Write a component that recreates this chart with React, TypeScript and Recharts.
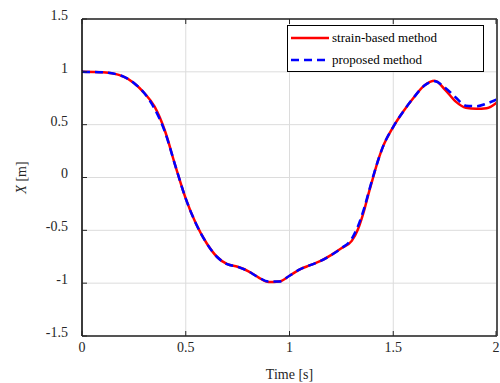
import { LineChart, Line, XAxis, YAxis, CartesianGrid } from "recharts"

const time = [0, 0.1, 0.2, 0.25, 0.3, 0.35, 0.4, 0.45, 0.5, 0.55, 0.6, 0.65, 0.7, 0.75, 0.8, 0.85, 0.9, 0.95, 1.0, 1.05, 1.1, 1.15, 1.2, 1.25, 1.3, 1.33, 1.36, 1.38, 1.4, 1.43, 1.45, 1.5, 1.55, 1.6, 1.65, 1.7, 1.75, 1.8, 1.85, 1.9, 1.95, 2.0]
const strainBased = [1.0, 0.995, 0.955, 0.895, 0.8, 0.67, 0.44, 0.11, -0.2, -0.44, -0.62, -0.75, -0.82, -0.845, -0.885, -0.945, -0.99, -0.985, -0.93, -0.87, -0.83, -0.79, -0.735, -0.67, -0.6, -0.49, -0.31, -0.16, -0.02, 0.18, 0.29, 0.48, 0.63, 0.76, 0.87, 0.915, 0.83, 0.72, 0.66, 0.65, 0.655, 0.71]
const proposed = [1.0, 0.995, 0.955, 0.895, 0.8, 0.65, 0.43, 0.11, -0.2, -0.44, -0.62, -0.75, -0.82, -0.845, -0.885, -0.945, -0.985, -0.985, -0.93, -0.87, -0.83, -0.79, -0.735, -0.67, -0.58, -0.46, -0.29, -0.15, -0.01, 0.18, 0.29, 0.48, 0.63, 0.76, 0.87, 0.91, 0.85, 0.76, 0.68, 0.675, 0.7, 0.74]

const xTicks = [0, 0.5, 1, 1.5, 2]
const yTicks = [-1.5, -1, -0.5, 0, 0.5, 1, 1.5]

const data = time.map((t, i) => ({ t, strain: strainBased[i], proposed: proposed[i] }))

const font = "'Liberation Serif', 'Times New Roman', serif"
const M = 8

function LeftTick(props: any) {
  const { x, y, payload } = props
  return (
    <g>
      <line x1={x + M} x2={x + M + 5} y1={y} y2={y} stroke="#262626" />
      <text x={x - 6} y={y - 4} dy="0.35em" textAnchor="end" fontSize={14} style={{ fontFamily: font }} fill="#262626">
        {payload.value}
      </text>
    </g>
  )
}

function RightTick(props: any) {
  const { x, y } = props
  return <line x1={x - M} x2={x - M - 5} y1={y} y2={y} stroke="#262626" />
}

function BottomTick(props: any) {
  const { x, y, payload } = props
  return (
    <g>
      <line x1={x} x2={x} y1={y - M} y2={y - M - 5} stroke="#262626" />
      <text x={x} y={y - 2} dy="0.71em" textAnchor="middle" fontSize={14} style={{ fontFamily: font }} fill="#262626">
        {payload.value}
      </text>
    </g>
  )
}

function TopTick(props: any) {
  const { x, y } = props
  return <line x1={x} x2={x} y1={y + M} y2={y + M + 5} stroke="#262626" />
}

function YLabel(props: any) {
  const { viewBox } = props
  const cy = viewBox.y + viewBox.height / 2
  return (
    <text x={26} y={cy} transform={`rotate(-90 26 ${cy})`} textAnchor="middle" fontSize={14} style={{ fontFamily: font }} fill="#262626">
      <tspan fontStyle="italic">X</tspan>
      <tspan>{"  [m]"}</tspan>
    </text>
  )
}

function LegendBox() {
  return (
    <div style={{ position: "absolute", left: 287, top: 25, width: 195, height: 45, border: "1px solid #000", background: "#fff", fontFamily: font, fontSize: 13, color: "#000" }}>
      <div style={{ display: "flex", alignItems: "center", height: 22, marginTop: 1 }}>
        <svg width={44} height={10}>
          <line x1={3} x2={41} y1={5} y2={5} stroke="#ff0000" strokeWidth={2.5} />
        </svg>
        <span>strain-based method</span>
      </div>
      <div style={{ display: "flex", alignItems: "center", height: 22 }}>
        <svg width={44} height={10}>
          <line x1={3} x2={41} y1={5} y2={5} stroke="#0000ff" strokeWidth={2.5} strokeDasharray="8 5" />
        </svg>
        <span>proposed method</span>
      </div>
    </div>
  )
}

export default function App() {
  return (
    <div style={{ position: "absolute", left: 0, top: 0, width: 500, height: 383, background: "#fff" }}>
      <LineChart width={500} height={383} data={data} margin={{ top: 0, right: 0, bottom: 0, left: 0 }}>
        <CartesianGrid stroke="#dcdcdc" strokeWidth={1} horizontalValues={yTicks} verticalValues={xTicks} />
        <XAxis
          dataKey="t"
          type="number"
          domain={[0, 2]}
          ticks={xTicks}
          allowDataOverflow
          tickLine={false}
          tickSize={0}
          tickMargin={M}
          tick={<BottomTick />}
          axisLine={{ stroke: "#555", strokeWidth: 2 }}
          height={47}
          label={{ value: "Time [s]", position: "insideBottom", offset: 4, fontSize: 14, fontFamily: font, fill: "#262626" }}
        />
        <XAxis
          xAxisId="top"
          orientation="top"
          dataKey="t"
          type="number"
          domain={[0, 2]}
          ticks={xTicks}
          tickLine={false}
          tickSize={0}
          tickMargin={M}
          tick={<TopTick />}
          axisLine={{ stroke: "#555", strokeWidth: 2 }}
          height={19}
        />
        <YAxis
          type="number"
          domain={[-1.5, 1.5]}
          ticks={yTicks}
          allowDataOverflow
          width={82}
          tickLine={false}
          tickSize={0}
          tickMargin={M}
          tick={<LeftTick />}
          axisLine={{ stroke: "#000", strokeWidth: 1.5 }}
          label={{ content: <YLabel /> }}
        />
        <YAxis
          yAxisId="right"
          orientation="right"
          type="number"
          domain={[-1.5, 1.5]}
          ticks={yTicks}
          width={3}
          tickLine={false}
          tickSize={0}
          tickMargin={M}
          tick={<RightTick />}
          axisLine={{ stroke: "#555", strokeWidth: 2 }}
        />
        <Line dataKey="strain" type="monotone" stroke="#ff0000" strokeWidth={2.5} dot={false} isAnimationActive={false} />
        <Line dataKey="proposed" type="monotone" stroke="#0000ff" strokeWidth={2.5} strokeDasharray="8 5" dot={false} isAnimationActive={false} />
      </LineChart>
      <LegendBox />
    </div>
  )
}
